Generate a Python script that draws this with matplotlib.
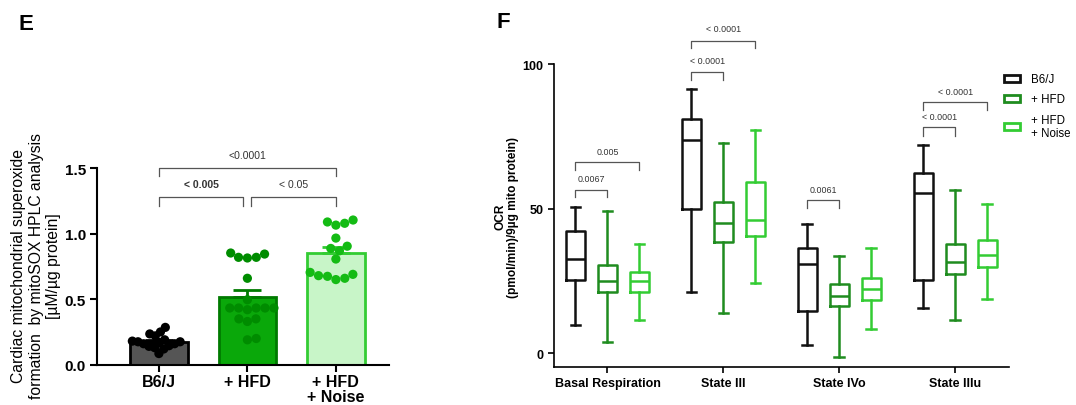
import numpy as np
import matplotlib
matplotlib.use("Agg")
import matplotlib.pyplot as plt
from matplotlib.patches import Patch

plt.rcParams['font.family'] = ['Liberation Sans', 'DejaVu Sans']

# ---- panel E data: mitoSOX superoxide, individual animals ----
e_groups = ['B6/J', '+ HFD', '+ HFD\n+ Noise']
e_b6 = [0.25, 0.145, 0.18, 0.175, 0.285, 0.085, 0.22, 0.13,
        0.175, 0.12, 0.16, 0.235, 0.17, 0.16, 0.14, 0.19]
e_hfd = [0.853, 0.82, 0.82, 0.845, 0.815, 0.66, 0.496, 0.433, 0.433,
         0.433, 0.433, 0.433, 0.42, 0.35, 0.35, 0.33, 0.19, 0.20]
e_noise = [1.08, 1.066, 1.105, 1.09, 0.967, 0.888, 0.87, 0.905,
           0.807, 0.66, 0.705, 0.675, 0.69, 0.65, 0.68]

# ---- panel F data: OCR box plots (whislo, q1, median, q3, whishi) ----
f_cats = ['Basal Respiration', 'State III', 'State IVo', 'State IIIu']
f_groups = ['B6/J', '+ HFD', '+ HFD\n+ Noise']
f_b6 = [[9.8, 25.5, 32.8, 42.3, 50.5],
        [21.1, 49.9, 73.7, 80.9, 91.4],
        [3.0, 14.6, 30.8, 36.6, 44.9],
        [15.7, 25.5, 55.6, 62.4, 72.1]]
f_hfd = [[4.0, 21.1, 25.1, 30.6, 49.3],
         [13.9, 38.4, 45.0, 52.2, 72.7],
         [-1.4, 16.5, 19.8, 24.0, 33.8],
         [11.5, 27.4, 31.7, 37.9, 56.5]]
f_noise = [[11.5, 21.3, 25.1, 28.0, 37.7],
           [24.2, 40.7, 46.1, 59.1, 77.2],
           [8.4, 18.5, 22.2, 26.0, 36.4],
           [18.8, 30.0, 34.0, 39.2, 51.8]]

black = '#111111'
dgreen = '#1f8c1f'
lgreen = '#33cc33'
gray = '#555555'


def swarm(vals, sx, sy, d, maxw):
    # simple beeswarm, squeezed so the dots stay inside the bar
    order = np.argsort(vals)
    placed = []
    offs = np.zeros(len(vals))
    for i in order:
        y = vals[i] * sy
        cands = [0.0]
        for px, py in placed:
            dy = abs(py - y)
            if dy < d:
                dx = np.sqrt(d * d - dy * dy)
                cands += [px + dx, px - dx]
        cands.sort(key=abs)
        for c in cands:
            if all((c - px) ** 2 + (y - py) ** 2 >= d * d - 1e-6 for px, py in placed):
                break
        placed.append((c, y))
        offs[i] = c / sx
    big = np.abs(offs).max()
    if big > maxw:
        offs = offs * maxw / big
    return offs


def bracket(ax, x1, x2, y, tip, text, fs, bold=False, ty=None):
    ax.plot([x1, x1, x2, x2], [tip, y, y, tip], color=gray, lw=0.9,
            clip_on=False)
    ax.text((x1 + x2) / 2, ty, text, ha='center', va='center', fontsize=fs,
            color='#333333', fontweight='bold' if bold else 'normal',
            clip_on=False)


fig = plt.figure(figsize=(10.76, 4.06), dpi=100)

# ================= panel E =================
axE = fig.add_axes([0.0901, 0.0993, 0.2714, 0.4837])
axE.set_xlim(-0.7, 2.6)
axE.set_ylim(0, 1.5)

e_data = [e_b6, e_hfd, e_noise]
e_fill = ['#555555', '#0aa80a', '#c8f5c8']
e_edge = ['#000000', '#007a00', '#33cc33']
e_pts = ['#000000', '#008c00', '#14bb14']
sx = 292 / 3.3
sy = 131.0
for i, vals in enumerate(e_data):
    vals = np.array(vals)
    m = vals.mean()
    sem = vals.std(ddof=1) / np.sqrt(len(vals))
    axE.bar(i, m, width=0.65, color=e_fill[i], edgecolor=e_edge[i],
            linewidth=2, zorder=2)
    axE.errorbar(i, m, yerr=[[0], [sem]], fmt='none', ecolor=e_edge[i],
                 elinewidth=2, capsize=10, capthick=2, zorder=3)
    offs = swarm(vals, sx, sy, 9.0, 0.3)
    axE.scatter(i + offs, vals, s=44, color=e_pts[i], zorder=4,
                edgecolors='none', clip_on=False)

for s in ['top', 'right']:
    axE.spines[s].set_visible(False)
for s in ['left', 'bottom']:
    axE.spines[s].set_linewidth(1.5)
axE.set_yticks([0, 0.5, 1.0, 1.5])
axE.set_yticklabels(['0.0', '0.5', '1.0', '1.5'])
axE.set_xticks(range(3))
axE.set_xticklabels(e_groups)
axE.tick_params(axis='both', width=1.5, length=5)
axE.tick_params(axis='x', pad=2)
axE.tick_params(axis='y', pad=3, labelsize=11)
for lab in axE.get_xticklabels():
    lab.set_fontweight('bold')
    lab.set_fontsize(11.5)
    lab.set_linespacing(0.95)
for lab in axE.get_yticklabels():
    lab.set_fontweight('bold')

bracket(axE, 0, 2, 1.5, 1.443, '<0.0001', 7.5, ty=1.60)
bracket(axE, 0, 0.955, 1.278, 1.209, '< 0.005', 7.5, bold=True, ty=1.38)
bracket(axE, 1.045, 2, 1.278, 1.209, '< 0.05', 7.5, ty=1.38)

fig.text(0.0335, 0.345,
         'Cardiac mitochondrial superoxide\nformation  by mitoSOX HPLC analysis\n[\u00b5M/\u00b5g protein]',
         rotation=90, ha='center', va='center', multialignment='center',
         fontsize=11.3, linespacing=1.2)

# ================= panel F =================
axF = fig.add_axes([0.515, 0.0936, 0.423, 0.746])
axF.set_xlim(-0.46, 3.465)
axF.set_ylim(-4.7, 100)

f_data = [f_b6, f_hfd, f_noise]
f_cols = [black, dgreen, lgreen]
offsets = [-0.276, 0, 0.276]
for g, rows in enumerate(f_data):
    stats = [dict(whislo=r[0], q1=r[1], med=r[2], q3=r[3], whishi=r[4],
                  fliers=[]) for r in rows]
    pos = [c + offsets[g] for c in range(len(f_cats))]
    c = f_cols[g]
    axF.bxp(stats, positions=pos, widths=0.17, showfliers=False,
            boxprops=dict(color=c, lw=1.8),
            whiskerprops=dict(color=c, lw=1.8),
            capprops=dict(color=c, lw=1.8),
            medianprops=dict(color=c, lw=1.8),
            manage_ticks=False)

for s in ['top', 'right']:
    axF.spines[s].set_visible(False)
axF.spines['left'].set_bounds(-4.7, 100)
for s in ['left', 'bottom']:
    axF.spines[s].set_linewidth(1.2)
axF.set_yticks([0, 50, 100])
axF.set_xticks(range(len(f_cats)))
axF.set_xticklabels(f_cats)
axF.tick_params(axis='both', width=1.2, length=4, labelsize=9)
for lab in axF.get_xticklabels() + axF.get_yticklabels():
    lab.set_fontweight('bold')

fs = 6.4
bracket(axF, -0.276, 0, 56.5, 54.1, '0.0067', fs, ty=60.3)
bracket(axF, -0.276, 0.276, 66.2, 63.4, '0.005', fs, ty=69.7)
bracket(axF, 0.724, 1, 97.3, 94.6, '< 0.0001', fs, ty=101.1)
bracket(axF, 0.724, 1.276, 108.1, 105.6, '< 0.0001', fs, ty=112.2)
bracket(axF, 1.724, 2, 53.0, 50.3, '0.0061', fs, ty=56.5)
bracket(axF, 2.724, 3, 78.3, 75.2, '< 0.0001', fs, ty=81.8)
bracket(axF, 2.724, 3.276, 86.9, 84.2, '< 0.0001', fs, ty=90.4)

fig.text(0.4707, 0.4655, 'OCR\n(pmol/min)/9\u00b5g mito protein)',
         rotation=90, ha='center', va='center', multialignment='center',
         fontsize=8.6, fontweight='bold', linespacing=1.1)

handles = [Patch(facecolor='white', edgecolor=c, linewidth=2) for c in f_cols]
fig.legend(handles, f_groups, loc='upper left',
           bbox_to_anchor=(994 / 1076, 1 - 64 / 406), frameon=False,
           fontsize=8.3, handlelength=1.35, handleheight=0.55,
           handletextpad=1.0, labelspacing=0.7)

# panel letters
fig.text(26 / 1076, 1 - 24 / 406, 'E', fontsize=16, fontweight='bold',
         ha='center', va='center')
fig.text(503 / 1076, 1 - 23 / 406, 'F', fontsize=16, fontweight='bold',
         ha='center', va='center')

fig.savefig('out.png', dpi=100)
